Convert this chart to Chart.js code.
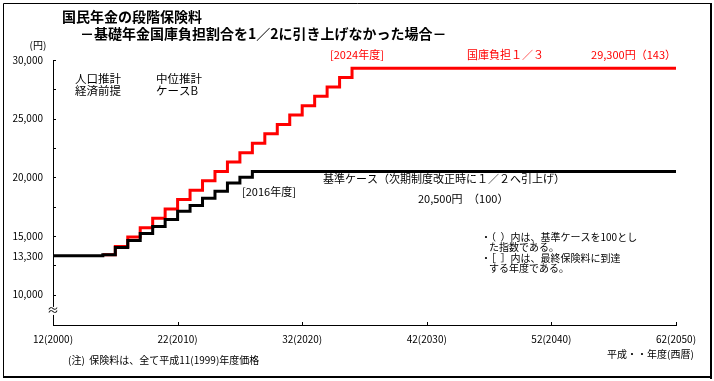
<!DOCTYPE html>
<html>
<head>
<meta charset="utf-8">
<script src="https://cdn.jsdelivr.net/npm/chart.js@4/dist/chart.umd.min.js"></script>
<style>
  html, body { margin: 0; padding: 0; background: #fff; }
  #wrap { position: relative; width: 714px; height: 381px; }
</style>
</head>
<body>
<div id="wrap"><canvas id="chart" width="714" height="381"></canvas></div>
<script>
// 基準ケース (black)
const baseYears  = [2000, 2004, 2005, 2006, 2007, 2008, 2009, 2010, 2011, 2012, 2013, 2014, 2015, 2016, 2050];
const baseValues = [13300, 13400, 14000, 14600, 15200, 15800, 16400, 17100, 17600, 18200, 18800, 19500, 20000, 20500, 20500];

// 国庫負担1/3 (red)
const redYears  = [2004, 2005, 2006, 2007, 2008, 2009, 2010, 2011, 2012, 2013, 2014, 2015, 2016, 2017, 2018, 2019, 2020, 2021, 2022, 2023, 2024, 2050];
const redValues = [13400, 14100, 14900, 15700, 16500, 17300, 18100, 18900, 19700, 20500, 21300, 22100, 22900, 23700, 24500, 25300, 26100, 26900, 27700, 28500, 29300, 29300];

// axes
const xTickYears  = [2000, 2010, 2020, 2030, 2040, 2050];
const xTickLabels = ['12(2000)', '22(2010)', '32(2020)', '42(2030)', '52(2040)', '62(2050)'];
const yLabelValues = [10000, 13300, 15000, 20000, 25000, 30000];
const yTickMarks   = [10000, 12500, 15000, 17500, 20000, 22500, 25000, 27500, 30000];

const FONT = "'Noto Sans CJK JP', 'Noto Sans', sans-serif";
Chart.defaults.font.family = FONT;
Chart.defaults.color = '#000';

function toPoints(xs, ys) {
  return xs.map((x, i) => ({ x: x, y: ys[i] }));
}

// ticks, break mark, annotations and frame
const overlay = {
  id: 'overlay',
  afterDraw(chart) {
    const { ctx, chartArea, scales } = chart;
    const x = scales.x, y = scales.y;
    ctx.save();
    ctx.strokeStyle = '#000';
    ctx.lineWidth = 1;
    ctx.beginPath();
    yTickMarks.forEach(v => {
      const py = Math.round(y.getPixelForValue(v)) + 0.5;
      ctx.moveTo(chartArea.left, py);
      ctx.lineTo(chartArea.left + 3, py);
    });
    xTickYears.slice(1).forEach(v => {
      const px = Math.round(x.getPixelForValue(v)) + 0.5;
      ctx.moveTo(px, chartArea.bottom);
      ctx.lineTo(px, chartArea.bottom - 3);
    });
    ctx.stroke();

    // axis break
    const by = y.getPixelForValue(8600);
    ctx.fillStyle = '#fff';
    ctx.fillRect(chartArea.left - 4, by - 4, 8, 8);
    ctx.fillStyle = '#000';
    ctx.font = '12px ' + FONT;
    ctx.textAlign = 'center';
    ctx.textBaseline = 'middle';
    ctx.fillText('≈', chartArea.left, by);

    function txt(s, px, py, font, color, align) {
      ctx.font = font;
      ctx.fillStyle = color || '#000';
      ctx.textAlign = align || 'left';
      ctx.textBaseline = 'middle';
      ctx.fillText(s, px, py);
    }
    const f11 = '11px ' + FONT;
    const f10 = '10px ' + FONT;

    txt('国民年金の段階保険料', 62, 17, 'bold 14px ' + FONT);
    txt('－基礎年金国庫負担割合を1／2に引き上げなかった場合－', 80, 34, 'bold 14px ' + FONT);
    txt('(円)', 38, 45, f10, '#000', 'center');

    txt('人口推計', 75, 79, '11.5px ' + FONT);
    txt('経済前提', 75, 91, '11.5px ' + FONT);
    txt('中位推計', 156, 79, '11.5px ' + FONT);
    txt('ケースB', 156, 91, '11.5px ' + FONT);

    txt('[2024年度]', 330, 55, f11, '#ff0000');
    txt('国庫負担１／３', 467, 55, f11, '#ff0000');
    txt('29,300円（143）', 676, 55, f11, '#ff0000', 'right');

    txt('基準ケース（次期制度改正時に１／２へ引上げ）', 323, 179, f11);
    txt('[2016年度]', 242, 192, f11);
    txt('20,500円　（100）', 418, 199, f11);

    txt('・（  ）内は、基準ケースを100とし', 481, 237, f10);
    txt('た指数である。', 489, 247, f10);
    txt('・［  ］内は、最終保険料に到達', 481, 258, f10);
    txt('する年度である。', 489, 268, f10);

    txt('平成・・年度(西暦)', 607, 354, f10);
    txt('(注)  保険料は、全て平成11(1999)年度価格', 68, 360, f10);

    // frame
    ctx.strokeStyle = '#000';
    ctx.lineWidth = 1;
    ctx.beginPath();
    ctx.moveTo(3.5, 377);
    ctx.lineTo(3.5, 3.5);
    ctx.lineTo(711, 3.5);
    ctx.stroke();
    ctx.fillStyle = '#000';
    ctx.fillRect(710, 3, 2, 376);
    ctx.fillRect(3, 376, 709, 2);
    ctx.restore();
  }
};

new Chart(document.getElementById('chart'), {
  type: 'line',
  data: {
    datasets: [
      {
        label: '基準ケース',
        data: toPoints(baseYears, baseValues),
        borderColor: '#000000',
        borderWidth: 3,
        stepped: 'before',
        pointRadius: 0,
        fill: false,
      },
      {
        label: '国庫負担１／３',
        data: toPoints(redYears, redValues),
        borderColor: '#ff0000',
        borderWidth: 3,
        stepped: 'before',
        pointRadius: 0,
        fill: false,
      },
    ],
  },
  options: {
    responsive: false,
    animation: false,
    events: [],
    layout: { padding: { left: 0, right: 38, top: 60, bottom: 0 } },
    plugins: {
      legend: { display: false },
      tooltip: { enabled: false },
    },
    scales: {
      x: {
        type: 'linear',
        min: 2000,
        max: 2050,
        grid: { display: false, drawTicks: false },
        border: { display: true, color: '#000', width: 1 },
        afterBuildTicks: s => { s.ticks = xTickYears.map(v => ({ value: v })); },
        afterFit: s => { s.height = 56; },
        ticks: {
          padding: 8,
          maxRotation: 0,
          autoSkip: false,
          font: { size: 10 },
          callback: v => xTickLabels[xTickYears.indexOf(v)],
        },
      },
      y: {
        type: 'linear',
        min: 7400,
        max: 30000,
        grid: { display: false, drawTicks: false },
        border: { display: true, color: '#000', width: 1 },
        afterBuildTicks: s => { s.ticks = yLabelValues.map(v => ({ value: v })); },
        afterFit: s => { s.width = 53; },
        ticks: {
          padding: 10,
          font: { size: 10 },
          callback: v => v.toLocaleString('en-US'),
        },
      },
    },
  },
  plugins: [overlay],
});
</script>
</body>
</html>
